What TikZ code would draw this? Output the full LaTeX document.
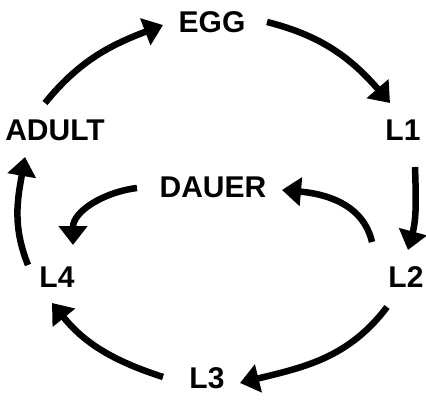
\documentclass[tikz,border=0pt]{standalone}
\usepackage{fontspec}
\setmainfont{Liberation Sans}
\usetikzlibrary{arrows.meta}
\begin{document}
\begin{tikzpicture}[x=1pt,y=1pt,
  lbl/.style={font=\fontsize{30}{30}\selectfont\bfseries, inner sep=0pt},
  arr/.style={line width=6.5pt, -{Triangle[length=19pt,width=28pt]}}]
\useasboundingbox (0,0) rectangle (426,400);
\node[lbl] (egg) at (212,378) {EGG};
\node[lbl] (l1) at (403,270) {L1};
\node[lbl] (adult) at (55,270) {ADULT};
\node[lbl] (dauer) at (213,213) {DAUER};
\node[lbl] (l4) at (57,123) {L4};
\node[lbl] (l2) at (406,123) {L2};
\node[lbl] (l3) at (207,22) {L3};
% connectors
\draw[arr] ([shift={(-10,27)}]adult.center) to[out=51,in=201] ([shift={(-49,-3)}]egg.center);
\draw[arr] ([shift={(55,0)}]egg.center) to[out=-14,in=131] ([shift={(-13,27)}]l1.center);
\draw[arr] ([shift={(12,-37)}]l1.center) to[out=-88,in=75] ([shift={(2,27)}]l2.center);
\draw[arr] ([shift={(-19,-30)}]l2.center) to[out=-127,in=14] ([shift={(33,-5)}]l3.center);
\draw[arr] ([shift={(-44,1)}]l3.center) to[out=162,in=-51] ([shift={(-5,-26)}]l4.center);
\draw[arr] ([shift={(-29,12)}]l4.center) to[out=112,in=260] ([shift={(-30,-27)}]adult.center);
\draw[arr] ([shift={(-34,35)}]l2.center) to[out=103,in=-5] ([shift={(69,-3)}]dauer.center);
\draw[arr] ([shift={(-76,-1)}]dauer.center) to[out=187,in=90] ([shift={(16,32)}]l4.center);
\end{tikzpicture}
\end{document}
